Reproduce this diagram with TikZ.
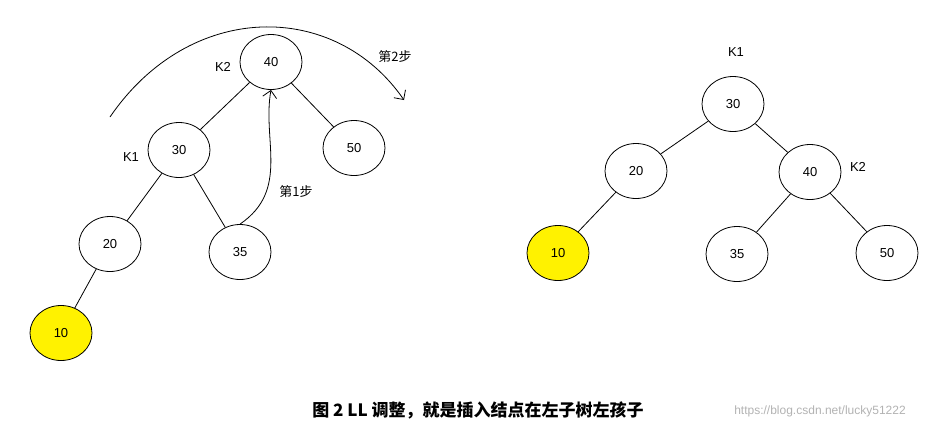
\documentclass[tikz,border=0pt]{standalone}
\usepackage{fontspec}
\setmainfont{Liberation Sans}
\newfontfamily\cjk{Noto Sans CJK SC}
\begin{document}
\begin{tikzpicture}[x=1pt,y=-1pt,line width=0.8pt,
  nd/.style={draw,ellipse,minimum width=62pt,minimum height=55pt,inner sep=0pt,font=\fontsize{13}{15}\selectfont},
  hl/.style={nd,fill=yellow},
  lbl/.style={font=\fontsize{13}{15}\selectfont}]
\usetikzlibrary{shapes.geometric,arrows.meta}
\useasboundingbox (0,0) rectangle (944,429);
% left tree
\node[nd] (l40) at (271,62) {40};
\node[nd] (l30) at (179,150) {30};
\node[nd] (l50) at (354,148) {50};
\node[nd] (l20) at (110,244) {20};
\node[nd] (l35) at (240,252) {35};
\node[hl] (l10) at (61,333) {10};
\draw (l40) -- (l30); \draw (l40) -- (l50);
\draw (l30) -- (l20); \draw (l30) -- (l35);
\draw (l20) -- (l10);
\node[lbl] (k2a) at (223,67) {K2};
\node[lbl] (k1a) at (131,157) {K1};
\node[lbl] (s2) at (395,57) {\cjk 第2步};
\node[lbl] (s1) at (296,192) {\cjk 第1步};
\coordinate (a0) at (110,117);
\coordinate (a1) at (404,100);
\draw[-{Straight Barb[length=7pt]}] (a0) .. controls (190,0) and (335,0) .. (a1);
\draw[-{Straight Barb[length=7pt]}] (l35.north) .. controls (290,190) and (262,140) .. (l40.south);
% right tree
\node[nd] (r30) at (733,104) {30};
\node[nd] (r20) at (636,171) {20};
\node[nd] (r40) at (810,172) {40};
\node[hl] (r10) at (558,253) {10};
\node[nd] (r35) at (737,254) {35};
\node[nd] (r50) at (887,253) {50};
\draw (r30) -- (r20); \draw (r30) -- (r40);
\draw (r20) -- (r10); \draw (r40) -- (r35); \draw (r40) -- (r50);
\node[lbl] (k1b) at (736,52) {K1};
\node[lbl] (k2b) at (858,167) {K2};
% caption
\node (cap) at (478,410) {\fontsize{17}{20}\selectfont\cjk\bfseries 图 \textbf{2 LL} 调整，就是插入结点在左子树左孩子};
\node[font=\fontsize{12}{14}\selectfont,text=black!30] (wm) at (820,411) {https://blog.csdn.net/lucky51222};
\end{tikzpicture}
\end{document}
